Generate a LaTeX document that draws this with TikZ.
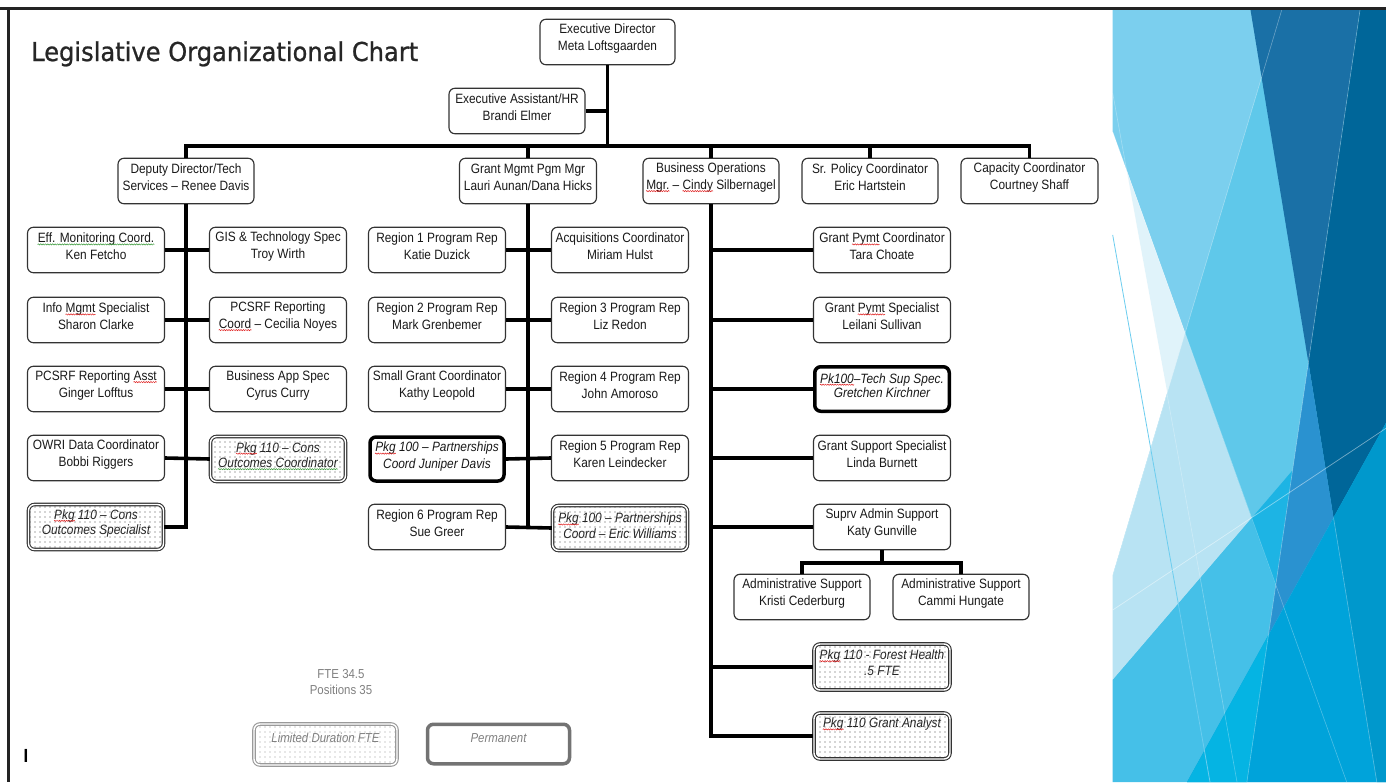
\documentclass[tikz,border=0pt]{standalone}
\usepackage{fontspec}
\usepackage{graphicx}
\usetikzlibrary{patterns.meta,decorations.pathmorphing}
\newfontfamily\boxfont[FakeStretch=0.88]{Liberation Sans}
\newfontfamily\titlefont[FakeBold=0.9]{DejaVu Sans}
\definecolor{sqgreen}{HTML}{3A9A3A}
\definecolor{sqred}{HTML}{E02020}
\definecolor{pBase}{HTML}{5FC8EA}
\definecolor{pLight}{HTML}{7BCFEE}
\definecolor{pPale}{HTML}{E0F3FA}
\definecolor{pPale2}{HTML}{B8E3F3}
\definecolor{pCyan}{HTML}{45C0E8}
\definecolor{pBright}{HTML}{1DB4E4}
\definecolor{pMidDark}{HTML}{1A70A6}
\definecolor{pDark}{HTML}{006699}
\definecolor{pMed}{HTML}{2A92D0}
\definecolor{pB1}{HTML}{00A3DA}
\definecolor{pB2}{HTML}{05B4E3}
\definecolor{pB3}{HTML}{0098CC}
\definecolor{pLine}{HTML}{6CCDEF}
\definecolor{frame}{HTML}{232323}
% wavy spelling underline
\newcommand\wavy[2]{\begin{tikzpicture}[baseline=(w.base)]\node[inner sep=0pt, draw=none, fill=none] (w) {#2};\draw[overlay, #1, line width=0.5pt, decorate, decoration={snake, amplitude=0.6pt, segment length=2.4pt}] ([yshift=-1.6pt]w.base west) -- ([yshift=-1.6pt]w.base east);\end{tikzpicture}}
\newcommand\sqr[1]{\wavy{sqred}{#1}}
\newcommand\sqg[1]{\wavy{sqgreen}{#1}}
% name, style, cx, cy, w, h, text offset, text style, text
\newcommand\obox[9]{%
  \node[#2, minimum width=#5pt, minimum height=#6pt] (#1) at (#3,#4) {};
  \node[#8] (#1-t) at (#3,#4-#7) {#9};}
\tikzset{
  conn/.style={line width=3.6pt, draw=black},
  obx/.style={draw=black!80, line width=1.15pt, rounded corners=6pt, fill=white, inner sep=0pt},
  thk/.style={draw=black, line width=3.5pt, rounded corners=6pt, fill=white, inner sep=0pt},
  dotbx/.style={draw=black!80, double=white, double distance=1.4pt, line width=1.1pt, rounded corners=6pt,
    pattern={Dots[distance=5pt,radius=0.55pt]}, pattern color=black!70, inner sep=0pt},
  btxt/.style={font=\boxfont\fontsize{13.5}{17}\selectfont, align=center, inner sep=0pt, text=black!90},
  itxt/.style={font=\boxfont\itshape\fontsize{13.5}{17}\selectfont, align=center, inner sep=0pt, text=black!90},
  dtxt/.style={font=\boxfont\itshape\fontsize{13.5}{15.5}\selectfont, align=center, inner sep=0pt, text=black!85},
  ttxt/.style={font=\boxfont\itshape\fontsize{13.5}{14}\selectfont, align=center, inner sep=0pt, text=black!90},
  gtxt/.style={font=\boxfont\fontsize{13}{16}\selectfont, align=center, inner sep=0pt, text=black!50},
}
\begin{document}
\begin{tikzpicture}[x=1pt,y=-1pt]
\useasboundingbox (0,0) rectangle (1386,782);
\fill[white] (0,0) rectangle (1386,782);

% ---------- decorative panel ----------
\fill[pBase] (1112.7,10) rectangle (1386,782);
\fill[pLight] (1112.7,10) -- (1281.7,10) -- (1185,333) -- (1112.7,131.7) -- cycle;
\fill[white] (1112.7,131.7) -- (1185,333) -- (1112.7,575) -- cycle;
\fill[pPale] (1126.8,171) -- (1185,333) -- (1168,396.6) -- cycle;
\fill[pPale2] (1185,333) -- (1251.5,518.4) -- (1112.7,680) -- (1112.7,575) -- cycle;
\fill[pCyan] (1112.7,680) -- (1386,361.6) -- (1386,782) -- (1112.7,782) -- cycle;
\fill[pBright] (1251.5,518.4) -- (1292.5,470.5) -- (1275.7,585.7) -- cycle;
\fill[pMidDark] (1250.5,10) -- (1360,10) -- (1308.4,362.5) -- cycle;
\fill[pDark] (1360,10) -- (1386,10) -- (1386,423) -- (1333.5,517.6) -- (1308.4,362.5) -- cycle;
\fill[pMed] (1308.4,362.5) -- (1333.5,517.6) -- (1268.4,635) -- cycle;
\fill[pB1] (1386,423) -- (1386,782) -- (1187.1,782) -- cycle;
\fill[pB2] (1187.1,782) -- (1268.4,635) -- (1246.9,782) -- cycle;
\fill[pB3] (1333.5,517.6) -- (1386,423) -- (1386,782) -- (1376.8,782) -- cycle;
\draw[pLine, line width=0.8pt] (1112.7,235) -- (1210,782);
\draw[white, opacity=0.45, line width=0.7pt] (1112.7,610) -- (1386,428.3);
\draw[white, opacity=0.35, line width=0.6pt] (1281.7,10) -- (1112.7,575);
\draw[white, opacity=0.35, line width=0.6pt] (1360,10) -- (1246.9,782);
\draw[white, opacity=0.3, line width=0.6pt] (1112.7,131.7) -- (1346.7,782);
\draw[white, opacity=0.35, line width=0.6pt] (1333.5,517.6) -- (1376.8,782);
\draw[white, opacity=0.3, line width=0.6pt] (1112.7,93) -- (1237,782);

% ---------- frame ----------
\draw[frame, line width=3.3pt] (0,8.3) -- (1386,8.3);
\draw[frame, line width=2.7pt] (8.7,8.3) -- (8.7,782);

% ---------- title ----------
\node[anchor=base west, inner sep=0pt, text=black!85, font=\titlefont\fontsize{26}{30}\selectfont] (title) at (31,61)
  {\resizebox{387pt}{\height}{Legislative Organizational Chart}};

% ---------- top ----------
\obox{ed}{obx}{607.5}{42}{135}{45.5}{3.5}{btxt}{Executive Director\\Meta Loftsgaarden}
\obox{ea}{obx}{517}{111}{136}{45.5}{3.5}{btxt}{Executive Assistant/HR\\Brandi Elmer}

% ---------- level 1 ----------
\obox{dd}{obx}{186}{181}{136}{45.5}{3.5}{btxt}{Deputy Director/Tech\\Services – Renee Davis}
\obox{gm}{obx}{528}{181}{137}{45.5}{3.5}{btxt}{Grant Mgmt Pgm Mgr\\Lauri Aunan/Dana Hicks}
\obox{bo}{obx}{711}{181}{136}{45.5}{3.5}{btxt}{Business Operations\\\sqr{Mgr.} – \sqr{Cindy} Silbernagel}
\obox{sp}{obx}{870}{181}{136}{45.5}{3.5}{btxt}{Sr. Policy Coordinator\\Eric Hartstein}
\obox{cc}{obx}{1029.5}{181}{137}{45.5}{3.5}{btxt}{Capacity Coordinator\\Courtney Shaff}

% ---------- left column ----------
\obox{la1}{obx}{96}{250}{137}{45.5}{3.5}{btxt}{\sqg{Eff. Monitoring Coord.}\\Ken Fetcho}
\obox{lb1}{obx}{278}{250}{137}{45.5}{3.5}{btxt}{GIS \& Technology Spec\\Troy Wirth}
\obox{la2}{obx}{96}{320}{137}{45.5}{3.5}{btxt}{Info \sqr{Mgmt} Specialist\\Sharon Clarke}
\obox{lb2}{obx}{278}{320}{137}{45.5}{3.5}{btxt}{PCSRF Reporting\\\sqr{Coord} – Cecilia Noyes}
\obox{la3}{obx}{96}{389}{137}{45.5}{3.5}{btxt}{PCSRF Reporting \sqr{Asst}\\Ginger Lofftus}
\obox{lb3}{obx}{278}{389}{137}{45.5}{3.5}{btxt}{Business App Spec\\Cyrus Curry}
\obox{la4}{obx}{96}{458}{137}{45.5}{3.5}{btxt}{OWRI Data Coordinator\\Bobbi Riggers}
\obox{lb4}{dotbx}{278}{459}{135}{45}{4}{dtxt}{\sqr{Pkg} 110 – Cons\\\sqg{Outcomes Coordinator}}
\obox{la5}{dotbx}{96}{527}{135}{45}{3.5}{dtxt}{\sqr{Pkg} 110 – Cons\\Outcomes Specialist}

% ---------- middle column ----------
\obox{ma1}{obx}{437}{250}{137}{45.5}{3.5}{btxt}{Region 1 Program Rep\\Katie Duzick}
\obox{mb1}{obx}{620}{250}{137}{45.5}{3.5}{btxt}{Acquisitions Coordinator\\Miriam Hulst}
\obox{ma2}{obx}{437}{320}{137}{45.5}{3.5}{btxt}{Region 2 Program Rep\\Mark Grenbemer}
\obox{mb2}{obx}{620}{320}{137}{45.5}{3.5}{btxt}{Region 3 Program Rep\\Liz Redon}
\obox{ma3}{obx}{437}{389}{137}{45.5}{3.5}{btxt}{Small Grant Coordinator\\Kathy Leopold}
\obox{mb3}{obx}{620}{389}{137}{45.5}{3.5}{btxt}{Region 4 Program Rep\\John Amoroso}
\obox{ma4}{thk}{437}{459}{134}{44}{2}{itxt}{\sqr{Pkg} 100 – Partnerships\\Coord Juniper Davis}
\obox{mb4}{obx}{620}{458}{137}{45.5}{3.5}{btxt}{Region 5 Program Rep\\Karen Leindecker}
\obox{ma5}{obx}{437}{527}{137}{45.5}{3.5}{btxt}{Region 6 Program Rep\\Sue Greer}
\obox{mb5}{dotbx}{620}{528}{135}{45}{2.2}{dtxt}{\sqr{Pkg} 100 – Partnerships\\Coord – Eric Williams}

% ---------- right column ----------
\obox{r1}{obx}{882}{250}{137}{45.5}{3.5}{btxt}{Grant \sqr{Pymt} Coordinator\\Tara Choate}
\obox{r2}{obx}{882}{320}{137}{45.5}{3.5}{btxt}{Grant \sqr{Pymt} Specialist\\Leilani Sullivan}
\obox{r3}{thk}{882}{389}{134.5}{44.5}{3.7}{ttxt}{\sqr{Pk100}–Tech Sup Spec.\\Gretchen Kirchner}
\obox{r4}{obx}{882}{458}{137}{45.5}{3.5}{btxt}{Grant Support Specialist\\Linda Burnett}
\obox{r5}{obx}{882}{527}{137}{45.5}{3.5}{btxt}{Suprv Admin Support\\Katy Gunville}
\obox{a1}{obx}{802}{597}{136}{45.5}{3.5}{btxt}{Administrative Support\\Kristi Cederburg}
\obox{a2}{obx}{961}{597}{136}{45.5}{3.5}{btxt}{Administrative Support\\Cammi Hungate}
\obox{r6}{dotbx}{882}{667}{136}{46}{4.5}{dtxt}{\sqr{Pkg} 110 - Forest Health\\.5 FTE}
\obox{r7}{dotbx}{882}{736}{136}{46}{11.7}{dtxt}{\sqr{Pkg} 110 Grant Analyst}

% ---------- connectors ----------
\coordinate (hub) at (607.5,146);
\coordinate (sj) at (882,563);
\draw[conn] (ed.south) -- (hub);
\draw[conn] (ea.east) -- (ea.east -| hub);
\draw[conn] (dd.north) -- (dd.north |- hub) -- (cc.north |- hub) -- (cc.north);
\draw[conn] (gm.north) -- (gm.north |- hub);
\draw[conn] (bo.north) -- (bo.north |- hub);
\draw[conn] (sp.north) -- (sp.north |- hub);
% left
\draw[conn] (dd.south) |- (la5.east);
\draw[conn] (la1.east) -- (lb1.west);
\draw[conn] (la2.east) -- (lb2.west);
\draw[conn] (la3.east) -- (lb3.west);
\draw[conn] (la4.east) -- (lb4.west);
% middle
\draw[conn] (gm.south) -- (gm.south |- ma5.east);
\draw[conn] (ma1.east) -- (mb1.west);
\draw[conn] (ma2.east) -- (mb2.west);
\draw[conn] (ma3.east) -- (mb3.west);
\draw[conn] (ma4.east) -- (mb4.west);
\draw[conn] (ma5.east) -- (mb5.west);
% right
\draw[conn] (bo.south) |- (r7.west);
\draw[conn] (r1.west) -- (r1.west -| bo.south);
\draw[conn] (r2.west) -- (r2.west -| bo.south);
\draw[conn] (r3.west) -- (r3.west -| bo.south);
\draw[conn] (r4.west) -- (r4.west -| bo.south);
\draw[conn] (r5.west) -- (r5.west -| bo.south);
\draw[conn] (r6.west) -- (r6.west -| bo.south);
\draw[conn] (r5.south) -- (sj);
\draw[conn] (a1.north) -- (a1.north |- sj) -- (a2.north |- sj) -- (a2.north);

% ---------- legend ----------
\node[gtxt] (fte) at (341,682) {FTE 34.5\\Positions 35};
\node[dotbx, draw=black!40, pattern color=black!40, minimum width=143pt, minimum height=41pt] (ld) at (325.5,744.5) {};
\node[gtxt, font=\boxfont\itshape\fontsize{13}{16}\selectfont] (ld-t) at (325.5,738) {Limited Duration FTE};
\node[draw=black!55, line width=3.5pt, rounded corners=6pt, fill=white, minimum width=142pt, minimum height=39.5pt] (pm) at (498.5,744) {};
\node[gtxt, font=\boxfont\itshape\fontsize{13}{16}\selectfont] (pm-t) at (498.5,738) {Permanent};

\node[anchor=base, inner sep=0pt, font=\boxfont\bfseries\fontsize{19}{19}\selectfont] (cursor) at (26,762) {I};
\end{tikzpicture}
\end{document}
